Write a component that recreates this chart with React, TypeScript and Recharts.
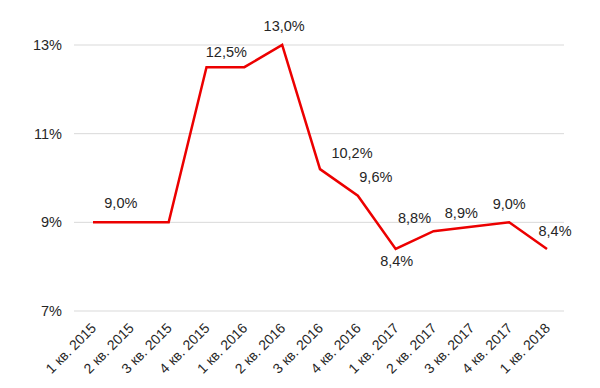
import React from "react";
import { LineChart, Line, XAxis, YAxis, CartesianGrid, LabelList } from "recharts";

const categories = [
  "1 кв. 2015", "2 кв. 2015", "3 кв. 2015", "4 кв. 2015",
  "1 кв. 2016", "2 кв. 2016", "3 кв. 2016", "4 кв. 2016",
  "1 кв. 2017", "2 кв. 2017", "3 кв. 2017", "4 кв. 2017",
  "1 кв. 2018",
];
const values = [9.0, 9.0, 9.0, 12.5, 12.5, 13.0, 10.2, 9.6, 8.4, 8.8, 8.9, 9.0, 8.4];
const yTicks = [7, 9, 11, 13];

// label placement (styling only): index -> [dx, dy] of label centre relative to point
const labelOffsets: Record<number, [number, number]> = {
  1: [-10, -19],
  4: [-18, -15],
  5: [2, -19],
  6: [32, -16],
  7: [18, -19],
  8: [1, 12],
  9: [-19, -13],
  10: [-10, -14],
  11: [0, -18],
  12: [8, -18],
};

const data = categories.map((c, i) => ({ name: c, value: values[i] }));

const fmt = (v: number) => v.toFixed(1).replace(".", ",") + "%";
const FONT = "Liberation Sans, Arial, sans-serif";

const renderLabel = (props: any) => {
  const { x, y, value, index } = props;
  const off = labelOffsets[index];
  if (!off) return null;
  return (
    <text
      x={x + off[0]}
      y={y + off[1] + 5}
      textAnchor="middle"
      fontSize={14.5}
      fontFamily={FONT}
      fill="#262626"
    >
      {fmt(value)}
    </text>
  );
};

const XTick = (props: any) => {
  const { x, y, payload } = props;
  return (
    <g transform={`translate(${x + 4},${y + 10})`}>
      <text
        x={0}
        y={0}
        textAnchor="end"
        transform="rotate(-45)"
        fontSize={14}
        fontFamily={FONT}
        fill="#262626"
      >
        {payload.value}
      </text>
    </g>
  );
};

export default function App() {
  return (
    <LineChart
      width={592}
      height={380}
      data={data}
      margin={{ top: 37, right: 36, left: 0, bottom: 0 }}
      style={{ background: "#fff" }}
    >
      <CartesianGrid vertical={false} stroke="#d9d9d9" strokeWidth={1} />
      <XAxis
        dataKey="name"
        axisLine={false}
        tickLine={false}
        interval={0}
        height={77}
        padding={{ left: 19, right: 17 }}
        tick={<XTick />}
      />
      <YAxis
        domain={[7, 13]}
        ticks={yTicks}
        axisLine={false}
        tickLine={false}
        width={66}
        tickFormatter={(v: number) => `${v}%`}
        tick={{ fontSize: 14.5, fill: "#262626", fontFamily: FONT, dx: -4 }}
      />
      <Line
        type="linear"
        dataKey="value"
        stroke="#ec0000"
        strokeWidth={2.5}
        dot={false}
        isAnimationActive={false}
      >
        <LabelList dataKey="value" content={renderLabel} />
      </Line>
    </LineChart>
  );
}
